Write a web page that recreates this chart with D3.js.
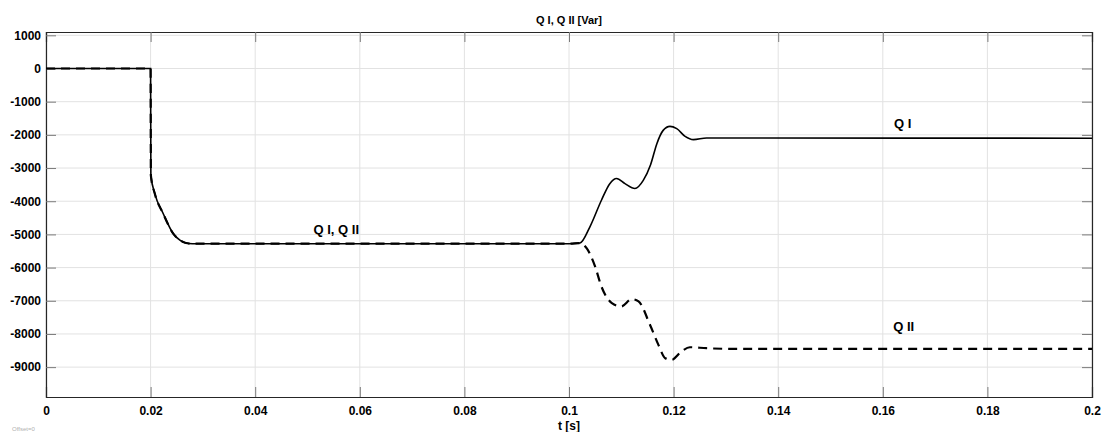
<!DOCTYPE html>
<html>
<head>
<meta charset="utf-8">
<script src="https://cdn.jsdelivr.net/npm/d3@7"></script>
<style>
  body { margin: 0; background: #fff; }
  text { font-family: Arial, "Liberation Sans", sans-serif; }
</style>
</head>
<body>
<script>
// Data
// =================================
var tQ1 = [0, 0.02, 0.02005, 0.0208, 0.0224, 0.0243, 0.0256, 0.0266, 0.028, 0.1, 0.1021,
    0.104, 0.1062, 0.1078, 0.1091, 0.1107, 0.1126, 0.1142, 0.1156, 0.1168, 0.118, 0.1193,
    0.1206, 0.1222, 0.1238, 0.1263, 0.13, 0.2];
var q1 = [0, 0, -3220, -3770, -4370, -4970, -5170, -5250, -5280, -5280, -5260,
    -4770, -3970, -3470, -3315, -3470, -3617, -3370, -2900, -2265, -1865, -1743,
    -1813, -2045, -2143, -2093, -2095, -2100];

var tQ2 = [0, 0.02, 0.02005, 0.0208, 0.0224, 0.0243, 0.0256, 0.0266, 0.028, 0.1, 0.1021,
    0.1034, 0.105, 0.1062, 0.1082, 0.11, 0.112, 0.1133, 0.1155, 0.1171, 0.1184, 0.1196,
    0.1215, 0.1231, 0.1263, 0.132, 0.2];
var q2 = [0, 0, -3220, -3770, -4370, -4970, -5170, -5250, -5280, -5280, -5260,
    -5420, -5970, -6570, -7070, -7170, -6950, -7020, -7730, -8330, -8730, -8780,
    -8530, -8400, -8430, -8450, -8450];

var xTicks = [0, 0.02, 0.04, 0.06, 0.08, 0.1, 0.12, 0.14, 0.16, 0.18, 0.2];
var yTicks = [1000, 0, -1000, -2000, -3000, -4000, -5000, -6000, -7000, -8000, -9000];

// Set up chart
// =================================
var svgWidth = 1104;
var svgHeight = 432;

var margin = { top: 32, right: 12, bottom: 35, left: 46 };
var chartWidth = svgWidth - margin.left - margin.right;
var chartHeight = svgHeight - margin.top - margin.bottom;

var svg = d3.select("body")
    .append("svg")
    .attr("width", svgWidth)
    .attr("height", svgHeight);

var chartGroup = svg.append("g")
    .attr("transform", `translate(${margin.left}, ${margin.top})`);

var xScale = d3.scaleLinear().domain([0, 0.2]).range([0, chartWidth]);
var yScale = d3.scaleLinear().domain([-9900, 1100]).range([chartHeight, 0]);

// grid lines
chartGroup.append("g")
    .selectAll("line")
    .data(xTicks)
    .enter()
    .append("line")
    .attr("x1", d => xScale(d)).attr("x2", d => xScale(d))
    .attr("y1", 0).attr("y2", chartHeight)
    .attr("stroke", "#e2e2e2")
    .attr("stroke-width", 1);

chartGroup.append("g")
    .selectAll("line")
    .data(yTicks)
    .enter()
    .append("line")
    .attr("x1", 0).attr("x2", chartWidth)
    .attr("y1", d => yScale(d)).attr("y2", d => yScale(d))
    .attr("stroke", "#e2e2e2")
    .attr("stroke-width", 1);

// axes (ticks pointing inward)
var bottomAxis = d3.axisBottom(xScale).tickValues(xTicks).tickSize(-10).tickPadding(9)
    .tickFormat(d => String(+d.toFixed(2)));
var topAxis = d3.axisTop(xScale).tickValues(xTicks).tickSize(-10).tickFormat("");
var leftAxis = d3.axisLeft(yScale).tickValues(yTicks).tickSize(-10).tickPadding(5)
    .tickFormat(d => String(d));
var rightAxis = d3.axisRight(yScale).tickValues(yTicks).tickSize(-10).tickFormat("");

function styleAxis(g) {
    g.select(".domain").attr("stroke", "#262626").attr("stroke-width", 1.2);
    g.selectAll(".tick line").attr("stroke", "#7a7a7a");
    g.selectAll(".tick text")
        .attr("fill", "#000")
        .style("font-size", "12px")
        .style("font-weight", "bold");
}

chartGroup.append("g").attr("transform", `translate(0, ${chartHeight})`).call(bottomAxis).call(styleAxis);
chartGroup.append("g").call(topAxis).call(styleAxis);
chartGroup.append("g").call(leftAxis).call(styleAxis);
chartGroup.append("g").attr("transform", `translate(${chartWidth}, 0)`).call(rightAxis).call(styleAxis);

// lines
var line = d3.line()
    .x(d => xScale(d[0]))
    .y(d => yScale(d[1]))
    .curve(d3.curveMonotoneX);

chartGroup.append("path")
    .datum(tQ2.map((t, i) => [t, q2[i]]))
    .attr("fill", "none")
    .attr("stroke", "#000")
    .attr("stroke-width", 2.2)
    .attr("stroke-dasharray", "9,6")
    .attr("d", line);

chartGroup.append("path")
    .datum(tQ1.map((t, i) => [t, q1[i]]))
    .attr("fill", "none")
    .attr("stroke", "#000")
    .attr("stroke-width", 1.6)
    .attr("d", line);

// labels
function label(t, v, txt) {
    chartGroup.append("text")
        .attr("x", xScale(t))
        .attr("y", yScale(v))
        .attr("text-anchor", "middle")
        .style("font-size", "13px")
        .style("font-weight", "bold")
        .text(txt);
}
label(0.0555, -5000, "Q I, Q II");
label(0.1638, -1780, "Q I");
label(0.1640, -7900, "Q II");

svg.append("text")
    .attr("x", margin.left + chartWidth / 2)
    .attr("y", 24)
    .attr("text-anchor", "middle")
    .style("font-size", "11px")
    .style("font-weight", "bold")
    .text("Q I, Q II [Var]");

svg.append("text")
    .attr("x", margin.left + chartWidth / 2)
    .attr("y", 430)
    .attr("text-anchor", "middle")
    .style("font-size", "12px")
    .style("font-weight", "bold")
    .text("t [s]");

svg.append("text")
    .attr("x", 12)
    .attr("y", 431)
    .attr("fill", "#b0b0b0")
    .style("font-size", "6px")
    .text("Offset=0");
</script>
</body>
</html>
